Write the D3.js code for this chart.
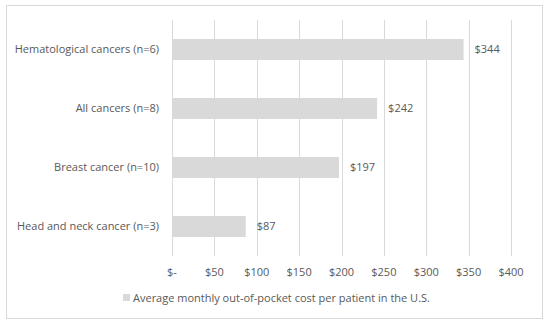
<!DOCTYPE html>
<html>
<head>
<meta charset="utf-8">
<script src="https://cdn.jsdelivr.net/npm/d3@7"></script>
<style>
  body { margin: 0; background: #fff; }
  text { font-family: "Open Sans", "Noto Sans", sans-serif; fill: #595959; }
</style>
</head>
<body>
<script>
// 数据
var categories = [
    "Hematological cancers (n=6)",
    "All cancers (n=8)",
    "Breast cancer (n=10)",
    "Head and neck cancer (n=3)"
];
var costs = [344, 242, 197, 87];
var tickValues = [0, 50, 100, 150, 200, 250, 300, 350, 400];
var legendLabel = "Average monthly out-of-pocket cost per patient in the U.S.";

var w = 550;
var h = 326;
var barColor = "#d9d9d9";
var gridColor = "#d9d9d9";

var svg = d3.select("body").append("svg")
    .attr("width", w)
    .attr("height", h);

// 外框
svg.append("rect")
    .attr("x", 6.5)
    .attr("y", 5.5)
    .attr("width", 536)
    .attr("height", 313)
    .attr("fill", "none")
    .attr("stroke", "#d9d9d9");

// 比例尺
var x = d3.scaleLinear()
    .domain([0, 400])
    .range([172, 511]);

var y = d3.scaleBand()
    .domain(categories)
    .range([20, 256])
    .paddingInner(0.644)
    .paddingOuter(0.322);

// 网格线
svg.selectAll(".grid")
    .data(tickValues)
    .enter()
    .append("line")
    .attr("class", "grid")
    .attr("x1", function (d) { return Math.round(x(d)) + 0.5; })
    .attr("x2", function (d) { return Math.round(x(d)) + 0.5; })
    .attr("y1", 20)
    .attr("y2", 256)
    .attr("stroke", gridColor)
    .attr("stroke-width", 1);

// 横轴标签
svg.selectAll(".tick-label")
    .data(tickValues)
    .enter()
    .append("text")
    .attr("class", "tick-label")
    .attr("x", function (d) { return x(d); })
    .attr("y", 276)
    .attr("text-anchor", "middle")
    .attr("font-size", "11px")
    .text(function (d) { return d === 0 ? "$-" : "$" + d; });

// 柱子
svg.selectAll(".bar")
    .data(costs)
    .enter()
    .append("rect")
    .attr("class", "bar")
    .attr("x", x(0))
    .attr("y", function (d, i) { return y(categories[i]); })
    .attr("width", function (d) { return x(d) - x(0); })
    .attr("height", y.bandwidth())
    .attr("fill", barColor);

// 数值标签
svg.selectAll(".value")
    .data(costs)
    .enter()
    .append("text")
    .attr("class", "value")
    .attr("x", function (d) { return x(d) + 11; })
    .attr("y", function (d, i) { return y(categories[i]) + y.bandwidth() / 2; })
    .attr("dy", "0.35em")
    .attr("font-size", "11px")
    .text(function (d) { return "$" + d; });

// 类别标签
svg.selectAll(".cat")
    .data(categories)
    .enter()
    .append("text")
    .attr("class", "cat")
    .attr("x", 159)
    .attr("y", function (d) { return y(d) + y.bandwidth() / 2; })
    .attr("dy", "0.35em")
    .attr("text-anchor", "end")
    .attr("font-size", "11px")
    .text(function (d) { return d; });

// 图例
svg.append("rect")
    .attr("x", 123)
    .attr("y", 294)
    .attr("width", 7)
    .attr("height", 7)
    .attr("fill", barColor);

svg.append("text")
    .attr("x", 133)
    .attr("y", 298)
    .attr("dy", "0.35em")
    .attr("font-size", "11px")
    .text(legendLabel);
</script>
</body>
</html>
